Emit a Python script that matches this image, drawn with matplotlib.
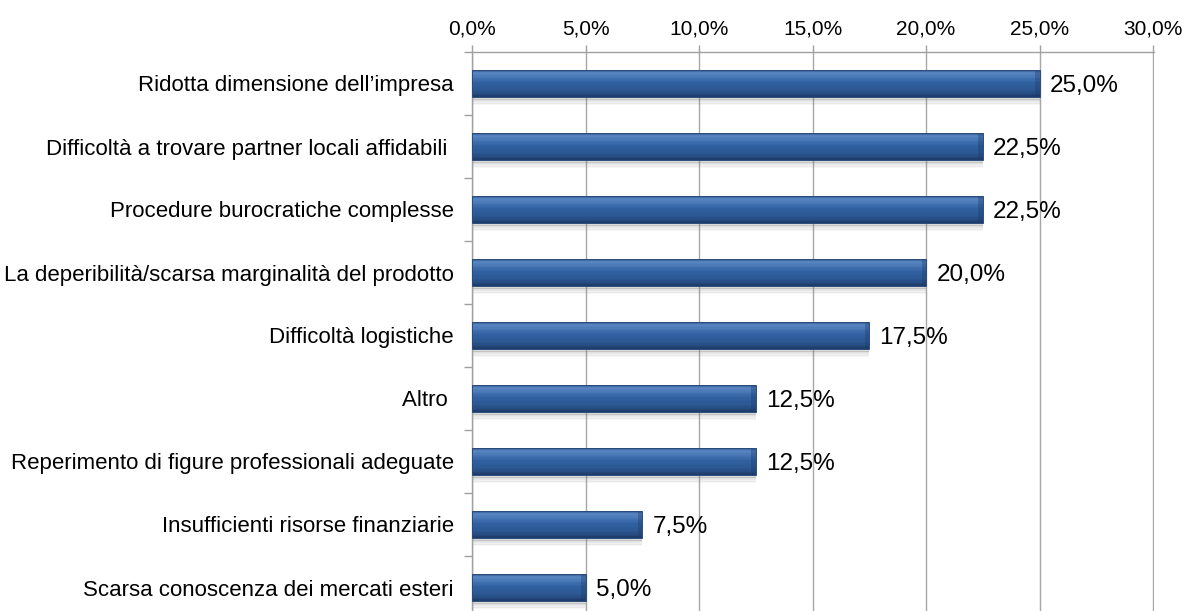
import numpy as np
import matplotlib
matplotlib.use('Agg')
import matplotlib.pyplot as plt
from matplotlib.ticker import FixedLocator, FuncFormatter

plt.rcParams['font.family'] = ['Liberation Sans', 'DejaVu Sans']

categories = [
    "Ridotta dimensione dell\u2019impresa",
    "Difficoltà a trovare partner locali affidabili ",
    "Procedure burocratiche complesse",
    "La deperibilità/scarsa marginalità del prodotto",
    "Difficoltà logistiche",
    "Altro ",
    "Reperimento di figure professionali adeguate",
    "Insufficienti risorse finanziarie",
    "Scarsa conoscenza dei mercati esteri",
]
values = [25.0, 22.5, 22.5, 20.0, 17.5, 12.5, 12.5, 7.5, 5.0]
xticks = [0, 5, 10, 15, 20, 25, 30]

def pct(v, pos=None):
    return f"{v:.1f}%".replace('.', ',')

def hexrgb(h):
    h = h.lstrip('#')
    return np.array([int(h[i:i + 2], 16) for i in (0, 2, 4)]) / 255

# gradient stops from top of bar (0) to bottom (1)
stops = [(0.0, '#3d639c'), (0.1, '#5a88c4'), (0.25, '#4a78b6'), (0.45, '#3262a2'),
         (0.75, '#2b5792'), (0.92, '#24487c'), (1.0, '#1c3a66')]

def grad(t):
    for (t0, c0), (t1, c1) in zip(stops[:-1], stops[1:]):
        if t <= t1:
            f = (t - t0) / (t1 - t0)
            return hexrgb(c0) + (hexrgb(c1) - hexrgb(c0)) * f
    return hexrgb(stops[-1][1])

fig = plt.figure(figsize=(11.84, 6.11), dpi=100)
ax = fig.add_axes([472 / 1184, 1 - 619 / 611, 682 / 1184, 567 / 611])

y = np.arange(len(categories))
bar_h = 0.42

# soft shadow under the bars
ns = 6
for i in range(ns):
    off = bar_h / 2 + (i + 0.5) * 0.13 / ns
    ax.barh(y + off, values, height=0.13 / ns + 0.002, color='#808080',
            alpha=0.35 * (1 - i / ns), linewidth=0, zorder=2)

# bars with a vertical gradient
n = 20
for i in range(n):
    t = (i + 0.5) / n
    off = -bar_h / 2 + t * bar_h
    ax.barh(y + off, values, height=bar_h / n + 0.002, color=grad(t), linewidth=0, zorder=3)
# darker bevel at the bar end
ax.barh(y, [0.2] * len(values), left=np.array(values) - 0.2, height=bar_h,
        color='#1c3a66', alpha=0.35, linewidth=0, zorder=3.5)
ax.barh(y, values, height=bar_h, color='none', edgecolor='#2a4b7c', linewidth=0.7, zorder=4)

for yi, v in zip(y, values):
    ax.text(v + 0.45, yi + 0.04, pct(v), va='center', ha='left', fontsize=17.5, color='black', zorder=5)

ax.set_xlim(0, 30.04)
ax.set_ylim(len(categories) - 0.5, -0.5)

ax.xaxis.tick_top()
ax.set_xticks(xticks)
ax.xaxis.set_major_formatter(FuncFormatter(pct))
ax.tick_params(axis='x', which='major', direction='out', length=5, width=1, color='#a0a0a0',
               pad=5, labelsize=15)
ax.grid(axis='x', color='#a6a6a6', linewidth=1, zorder=0)

ax.set_yticks(y)
ax.set_yticklabels(categories)
ax.tick_params(axis='y', which='major', length=0, pad=13, labelsize=16)
ax.yaxis.set_minor_locator(FixedLocator(np.arange(-0.5, len(categories), 1.0)))
ax.tick_params(axis='y', which='minor', direction='out', length=6, width=1, color='#a0a0a0')

for s in ['right', 'bottom']:
    ax.spines[s].set_visible(False)
for s in ['left', 'top']:
    ax.spines[s].set_color('#a0a0a0')
    ax.spines[s].set_linewidth(1)
ax.set_axisbelow(True)

fig.savefig('out.png', dpi=100, facecolor='white')
